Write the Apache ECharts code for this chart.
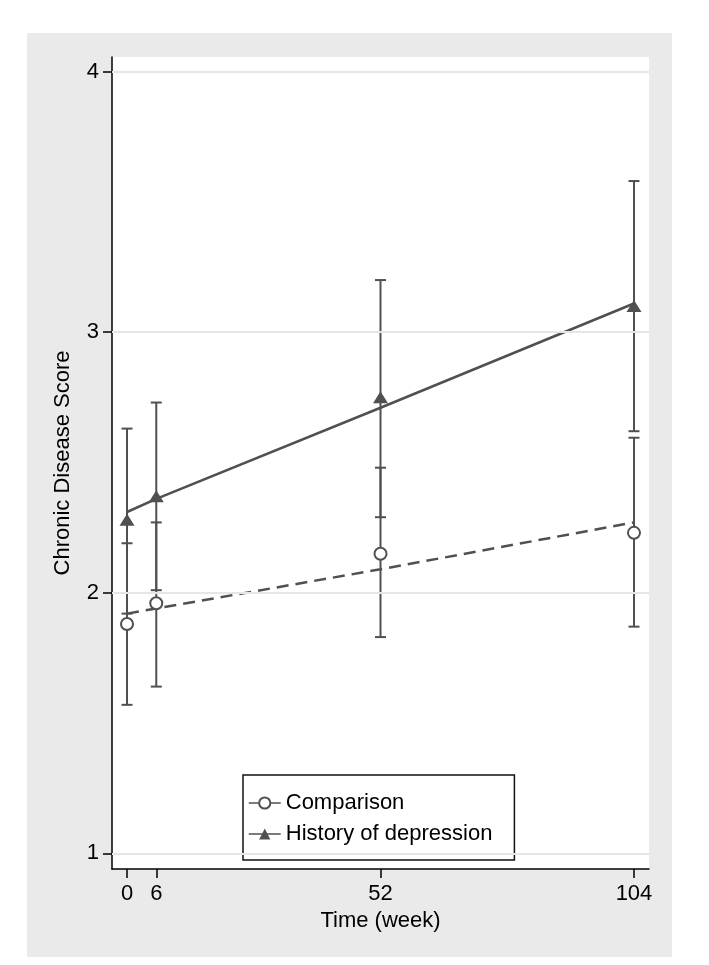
<!DOCTYPE html>
<html>
<head>
<meta charset="utf-8">
<script src="https://cdn.jsdelivr.net/npm/echarts@6/dist/echarts.min.js"></script>
<style>
  html, body { margin: 0; padding: 0; background: #fff; }
  #wrap { position: relative; width: 709px; height: 965px; background: #fff; }
  #main { position: absolute; left: 27px; top: 33px; width: 645px; height: 924px; }
</style>
</head>
<body>
<div id="wrap"><div id="main"></div></div>
<script>
// weeks of measurement
const weeks = [0, 6, 52, 104];
const yTicks = [1, 2, 3, 4];

// Comparison group: means and 95% CI
const compMean = [1.88, 1.96, 2.15, 2.23];
const compLow = [1.57, 1.64, 1.83, 1.87];
const compHigh = [2.19, 2.27, 2.48, 2.595];
const compFit = [1.92, 1.94, 2.09, 2.27];

// History of depression group
const deprMean = [2.28, 2.37, 2.75, 3.10];
const deprLow = [1.92, 2.01, 2.29, 2.62];
const deprHigh = [2.63, 2.73, 3.20, 3.58];
const deprFit = [2.31, 2.36, 2.71, 3.11];

const gray = '#505050';
const font = 'Liberation Sans, Arial, Helvetica, sans-serif';
const fs = 22;

const chart = echarts.init(document.getElementById('main'));

function pairs(xs, ys) {
  return xs.map((x, i) => [x, ys[i]]);
}

function errBars(lo, hi) {
  return weeks.map((w, i) => [w, lo[i], hi[i]]);
}

function renderErr(params, api) {
  const top = api.coord([api.value(0), api.value(2)]);
  const bot = api.coord([api.value(0), api.value(1)]);
  const hw = 5.5;
  const st = { stroke: gray, lineWidth: 2 };
  return {
    type: 'group',
    children: [
      { type: 'line', shape: { x1: top[0], y1: top[1], x2: bot[0], y2: bot[1] }, style: st },
      { type: 'line', shape: { x1: top[0] - hw, y1: top[1], x2: top[0] + hw, y2: top[1] }, style: st },
      { type: 'line', shape: { x1: bot[0] - hw, y1: bot[1], x2: bot[0] + hw, y2: bot[1] }, style: st }
    ]
  };
}

const option = {
  animation: false,
  backgroundColor: '#eaeaea',
  textStyle: { fontFamily: font },
  grid: {
    left: 85, top: 24, width: 537, height: 812,
    show: true, backgroundColor: '#fff', borderWidth: 0
  },
  legend: {
    data: ['Comparison', 'History of depression'],
    orient: 'vertical',
    left: 216, top: 742,
    padding: [17, 22, 15, 5],
    itemGap: 9,
    itemWidth: 32, itemHeight: 14,
    borderColor: '#111', borderWidth: 1.5, backgroundColor: '#fff',
    selectedMode: false,
    textStyle: { fontSize: fs, color: '#000', fontFamily: font },
    lineStyle: { color: gray, width: 1.5, type: 'solid', opacity: 1 }
  },
  xAxis: {
    type: 'value', min: -3.08, max: 107.08,
    name: 'Time (week)', nameLocation: 'middle', nameGap: 34,
    nameTextStyle: { fontSize: fs, color: '#000', fontFamily: font },
    axisLine: { onZero: false, lineStyle: { color: '#000', width: 1.5 } },
    axisTick: { customValues: weeks, length: 9, lineStyle: { color: '#000', width: 1.5 } },
    axisLabel: { customValues: weeks, fontSize: fs, color: '#000', margin: 14 },
    splitLine: { show: false }
  },
  yAxis: {
    type: 'value', min: 0.94, max: 4.056,
    name: 'Chronic Disease Score', nameLocation: 'middle', nameGap: 38,
    nameTextStyle: { fontSize: fs, color: '#000', fontFamily: font },
    axisLine: { show: true, onZero: false, lineStyle: { color: '#000', width: 1.5 } },
    axisTick: { show: true, customValues: yTicks, length: 9, lineStyle: { color: '#000', width: 1.5 } },
    axisLabel: { customValues: yTicks, fontSize: fs, color: '#000', margin: 13 },
    splitLine: { show: false }
  },
  series: [
    {
      name: 'grid', type: 'line', data: [], silent: true,
      markLine: {
        silent: true, symbol: 'none', label: { show: false },
        lineStyle: { color: '#e6e6e6', width: 2, type: 'solid' },
        data: yTicks.map((v) => ({ yAxis: v }))
      }
    },
    {
      name: 'compCI', type: 'custom', renderItem: renderErr,
      data: errBars(compLow, compHigh), z: 2, silent: true
    },
    {
      name: 'deprCI', type: 'custom', renderItem: renderErr,
      data: errBars(deprLow, deprHigh), z: 2, silent: true
    },
    {
      name: 'compFit', type: 'line', data: pairs(weeks, compFit), symbol: 'none', z: 3,
      lineStyle: { color: gray, width: 2.5, type: [12, 7] }, silent: true
    },
    {
      name: 'deprFit', type: 'line', data: pairs(weeks, deprFit), symbol: 'none', z: 3,
      lineStyle: { color: gray, width: 2.5 }, silent: true
    },
    {
      name: 'Comparison', type: 'line', data: pairs(weeks, compMean), z: 4,
      symbol: 'circle', symbolSize: 12,
      itemStyle: { color: '#fff', borderColor: gray, borderWidth: 2 },
      lineStyle: { width: 0, opacity: 0 }
    },
    {
      name: 'History of depression', type: 'line', data: pairs(weeks, deprMean), z: 4,
      symbol: 'triangle', symbolSize: [15, 12],
      itemStyle: { color: gray, borderWidth: 0 },
      lineStyle: { width: 0, opacity: 0 }
    }
  ]
};

chart.setOption(option);
</script>
</body>
</html>
